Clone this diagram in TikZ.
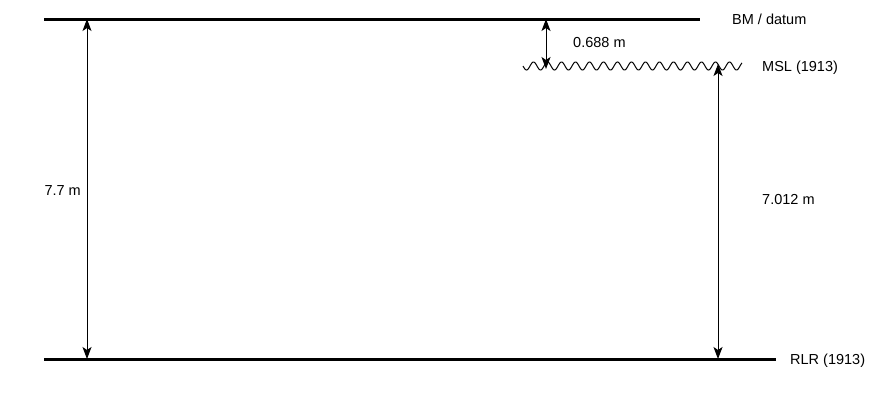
\documentclass[tikz,border=0pt]{standalone}
\usepackage{fontspec}
\setmainfont{Liberation Sans}
\usetikzlibrary{arrows.meta}
\begin{document}
\begin{tikzpicture}[x=1pt,y=-1pt,
  level/.style={line width=3pt},
  dim/.style={line width=1pt,{Stealth[length=12pt,width=9pt,inset=3pt]}-{Stealth[length=12pt,width=9pt,inset=3pt]}},
  lbl/.style={font=\fontsize{14.5}{16}\selectfont,inner sep=0pt}]
\useasboundingbox (0,0) rectangle (875,400);
% levels
\coordinate (bmL) at (44,19);
\coordinate (bmR) at (700,19);
\coordinate (rlrL) at (44,359);
\coordinate (rlrR) at (776,359);
\draw[level] (bmL) -- (bmR);
\draw[level] (rlrL) -- (rlrR);
\draw[line width=1pt] plot[domain=0:219,samples=300,smooth] ({\x+523},{66+4*sin(\x*25.714)});
% dimension points
\coordinate (a1) at (87,19);
\coordinate (a2) at (87,359);
\coordinate (b1) at (546,19);
\coordinate (b2) at (546,69);
\coordinate (c1) at (718,64);
\coordinate (c2) at (718,359);
\draw[dim] (a1) -- (a2);
\draw[dim] (b1) -- (b2);
\draw[dim] (c1) -- (c2);
% labels
\node[lbl,anchor=west] (bm) at (732,19) {BM / datum};
\node[lbl,anchor=west] (msl) at (762,68) {MSL (1913)};
\node[lbl,anchor=west] (rlr) at (790,361) {RLR (1913)};
\node[lbl,anchor=west] (d1) at (573,43) {0.688 m};
\node[lbl,anchor=east] (d2) at (81,191) {7.7 m};
\node[lbl,anchor=west] (d3) at (762,200) {7.012 m};
\end{tikzpicture}
\end{document}
